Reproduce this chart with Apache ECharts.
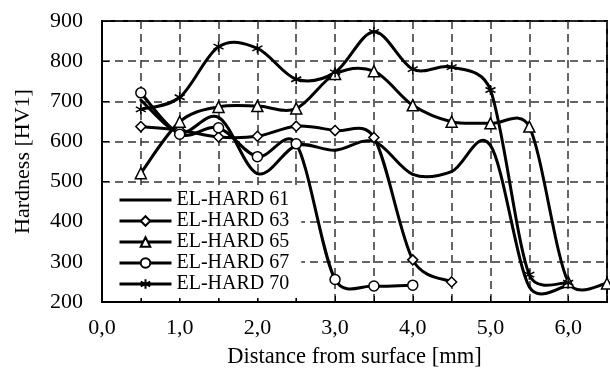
<!DOCTYPE html>
<html>
<head>
<meta charset="utf-8">
<script src="https://cdn.jsdelivr.net/npm/echarts@6/dist/echarts.min.js"></script>
<style>html,body{margin:0;padding:0;background:#fff;}#chart{width:610px;height:369px;}</style>
</head>
<body>
<div id="chart"></div>
<script>
// Data
var distances = [0.5, 1.0, 1.5, 2.0, 2.5, 3.0, 3.5, 4.0, 4.5, 5.0, 5.5, 6.0, 6.5];
var seriesNames = ['EL-HARD 61', 'EL-HARD 63', 'EL-HARD 65', 'EL-HARD 67', 'EL-HARD 70'];
var hard61 = [703, 622, 660, 520, 590, 578, 600, 518, 525, 590, 238, 242];
var hard63 = [637, 628, 611, 613, 638, 627, 610, 305, 250];
var hard65 = [521, 649, 686, 688, 682, 768, 775, 690, 649, 645, 637, 250, 246];
var hard67 = [721, 618, 634, 562, 594, 256, 240, 242];
var hard70 = [680, 710, 836, 832, 755, 772, 873, 780, 785, 728, 268, 248];
var yTicks = [200, 300, 400, 500, 600, 700, 800, 900];
var xTickLabels = ['0,0', '1,0', '2,0', '3,0', '4,0', '5,0', '6,0'];

var asterisk = 'path://M0,-5L0,5M-4.33,-2.5L4.33,2.5M-4.33,2.5L4.33,-2.5';
var symbols = ['none', 'diamond', 'triangle', 'circle', asterisk];
var valueSets = [hard61, hard63, hard65, hard67, hard70];
var FONT = '"Liberation Serif", "Times New Roman", serif';

function pair(vals) {
  return vals.map(function (v, i) { return [distances[i], v]; });
}

function dist(a, b) {
  var dx = a[0] - b[0], dy = a[1] - b[1];
  return Math.sqrt(dx * dx + dy * dy);
}

// Smoothed curve in the style of a spreadsheet's smoothed line,
// positioned through the chart's own axes with api.coord.
function makeCurveRenderer(vals) {
  return function (params, api) {
    var i = params.dataIndex;
    var n = vals.length;
    if (i >= n - 1) return null;
    function pt(j) {
      j = Math.max(0, Math.min(n - 1, j));
      return api.coord([distances[j], vals[j]]);
    }
    var p0 = pt(i - 1), p1 = pt(i), p2 = pt(i + 1), p3 = pt(i + 2);
    var d12 = dist(p1, p2), d02 = dist(p0, p2), d13 = dist(p1, p3);
    var f = 1 / 6, g = 1 / 6;
    if (d02 > 0) f = Math.min(f, 0.5 * d12 / d02);
    if (d13 > 0) g = Math.min(g, 0.5 * d12 / d13);
    return {
      type: 'bezierCurve',
      shape: {
        x1: p1[0], y1: p1[1],
        x2: p2[0], y2: p2[1],
        cpx1: p1[0] + (p2[0] - p0[0]) * f,
        cpy1: p1[1] + (p2[1] - p0[1]) * f,
        cpx2: p2[0] - (p3[0] - p1[0]) * g,
        cpy2: p2[1] - (p3[1] - p1[1]) * g
      },
      style: { stroke: '#000', lineWidth: 3, fill: null, lineCap: 'round' },
      silent: true
    };
  };
}

var series = [];
seriesNames.forEach(function (name, k) {
  series.push({
    name: name + ' curve',
    type: 'custom',
    data: pair(valueSets[k]),
    encode: { x: 0, y: 1 },
    renderItem: makeCurveRenderer(valueSets[k]),
    clip: true,
    z: 3
  });
});
seriesNames.forEach(function (name, k) {
  var sym = symbols[k];
  series.push({
    name: name,
    type: 'line',
    data: pair(valueSets[k]),
    symbol: sym,
    showSymbol: sym !== 'none',
    symbolSize: sym === 'triangle' ? 11 : 10,
    lineStyle: { color: '#000', width: 3, opacity: 0 },
    itemStyle: { color: '#fff', borderColor: '#000', borderWidth: 1.5 },
    emphasis: { disabled: true },
    z: 4
  });
});

var legendData = seriesNames.map(function (name, k) {
  if (symbols[k] === 'none') return { name: name, itemStyle: { opacity: 0 } };
  return { name: name };
});

var chart = echarts.init(document.getElementById('chart'), null, { renderer: 'canvas' });
chart.setOption({
  animation: false,
  backgroundColor: '#fff',
  color: ['#000'],
  grid: {
    left: 102, right: 3, top: 21, bottom: 67,
    outerBoundsMode: 'none', containLabel: false,
    show: true, borderColor: '#000', borderWidth: 2, backgroundColor: 'transparent'
  },
  legend: {
    orient: 'vertical',
    left: 103, top: 187,
    padding: [3, 12, 4, 15],
    backgroundColor: '#fff',
    itemWidth: 52, itemHeight: 12, itemGap: 1,
    lineStyle: { opacity: 1, color: '#000', width: 3 },
    textStyle: { fontFamily: FONT, fontSize: 20, color: '#000', lineHeight: 19 },
    data: legendData,
    z: 10
  },
  xAxis: {
    type: 'value',
    min: 0, max: 6.5, interval: 0.5,
    name: 'Distance from surface [mm]',
    nameLocation: 'middle', nameGap: 44,
    nameTextStyle: { fontFamily: FONT, fontSize: 22.5, color: '#000' },
    axisLine: { show: true, lineStyle: { color: '#000', width: 2 } },
    axisTick: { show: true, inside: true, length: 6, lineStyle: { color: '#000', width: 1 } },
    axisLabel: {
      fontFamily: FONT, fontSize: 22, color: '#000', margin: 15,
      formatter: function (v) {
        var r = Math.round(v);
        if (Math.abs(v - r) < 1e-9 && r >= 0 && r < xTickLabels.length) return xTickLabels[r];
        return '';
      }
    },
    splitLine: { show: true, lineStyle: { color: '#333', width: 1.5, type: [8, 5] } }
  },
  yAxis: {
    type: 'value',
    min: yTicks[0], max: yTicks[yTicks.length - 1], interval: 100,
    name: 'Hardness [HV1]',
    nameLocation: 'middle', nameGap: 68, nameRotate: 90,
    nameTextStyle: { fontFamily: FONT, fontSize: 22, color: '#000' },
    axisLine: { show: true, lineStyle: { color: '#000', width: 2 } },
    axisTick: { show: true, inside: true, length: 7, lineStyle: { color: '#000', width: 1 } },
    axisLabel: { fontFamily: FONT, fontSize: 22, color: '#000', margin: 19 },
    splitLine: { show: true, lineStyle: { color: '#333', width: 1.5, type: [8, 5] } }
  },
  series: series
});
</script>
</body>
</html>
